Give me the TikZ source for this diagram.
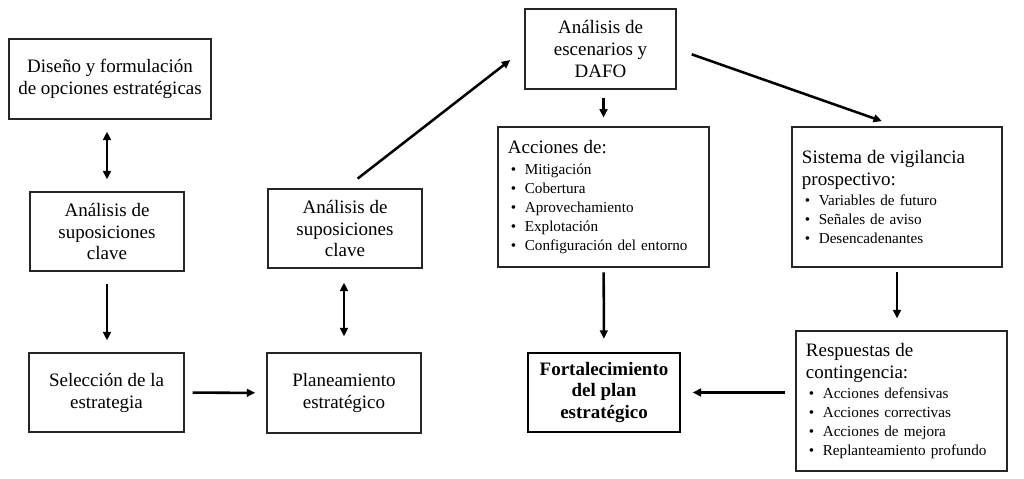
\documentclass[tikz,border=0pt]{standalone}
\usepackage{fontspec}
\setmainfont{Liberation Serif}
\usetikzlibrary{arrows.meta}
\newcommand{\itm}{\hspace*{0.07cm}\makebox[0.35cm][l]{\textbullet}}
\newcommand{\ttl}[1]{{\fontsize{13.5}{15.6}\selectfont #1}}
\begin{document}
\begin{tikzpicture}[x=0.025cm,y=-0.025cm,
    box/.style={draw=black!85,line width=0.8pt,align=center,inner sep=0,font=\fontsize{13.5}{15.6}\selectfont},
    lst/.style={draw=black!85,line width=0.8pt,align=left,inner xsep=0.25cm,inner ysep=0,
      minimum width=5.275cm,text width=4.775cm,minimum height=3.5cm,font=\fontsize{10.8}{13.5}\selectfont},
    conn/.style={line width=1.8pt,-{Triangle[length=6pt,width=5.5pt]},shorten >=0.3cm,shorten <=0.3cm},
    both/.style={conn,{Triangle[length=6pt,width=5.5pt]}-{Triangle[length=6pt,width=5.5pt]}}]
  \useasboundingbox (0,0) rectangle (1024,479);
  \node[box,minimum width=5.05cm,minimum height=2cm](diseno)at(110,79){Diseño y formulación\\de opciones estratégicas};
  \node[box,minimum width=3.85cm,minimum height=1.975cm](supA)at(107,231.5){Análisis de\\suposiciones\\clave};
  \node[box,minimum width=3.875cm,minimum height=1.975cm](seleccion)at(106.5,392.5){Selección de la\\estrategia};
  \node[box,minimum width=3.85cm,minimum height=1.975cm](supB)at(345,228.5){Análisis de\\suposiciones\\clave};
  \node[box,minimum width=3.85cm,minimum height=2cm](planea)at(344,393){Planeamiento\\estratégico};
  \node[box,minimum width=3.775cm,minimum height=2cm](dafo)at(600.5,49){Análisis de\\escenarios y\\DAFO};
  \node[lst](acciones)at(603.5,197){\ttl{Acciones de:}\\[2pt]
    \itm Mitigación\\\itm Cobertura\\\itm Aprovechamiento\\\itm Explotación\\\itm Configuración del entorno};
  \node[lst,minimum width=5.25cm,text width=4.75cm](vigilancia)at(897,197){\ttl{Sistema de vigilancia}\\[2.5pt]
    \ttl{prospectivo:}\\[1pt]
    \itm Variables de futuro\\\itm Señales de aviso\\\itm Desencadenantes};
  \node[box,line width=2pt,draw=black,minimum width=3.8cm,minimum height=1.975cm,
    font=\bfseries\fontsize{13.5}{15.6}\selectfont](fortal)at(604,392.5){Fortalecimiento\\del plan\\estratégico};
  \node[lst](respuestas)at(901.5,401){\ttl{Respuestas de}\\[2.5pt]
    \ttl{contingencia:}\\[1pt]
    \itm Acciones defensivas\\\itm Acciones correctivas\\\itm Acciones de mejora\\\itm Replanteamiento profundo};
  \draw[both](supA.north)--(supA.north|-diseno.south);
  \draw[conn](supA.south)--(supA.south|-seleccion.north);
  \draw[conn,shorten <=0.2cm,shorten >=0.28cm](seleccion)--(planea);
  \draw[both,shorten <=0.4cm,shorten >=0.35cm](planea.north)--(planea.north|-supB.south);
  \draw[conn,shorten <=0.4cm,shorten >=0.45cm](supB.north)--(dafo.west);
  \draw[conn,shorten <=0.2cm,shorten >=0.22cm](acciones.north|-dafo.south)--(acciones.north);
  \draw[conn,shorten <=0.4cm,shorten >=0.4cm](dafo.east)--(vigilancia.north);
  \draw[conn,shorten <=0.12cm,shorten >=0.32cm](acciones)--(fortal);
  \draw[conn,shorten <=0.12cm,shorten >=0.3cm](vigilancia.south)--(vigilancia.south|-respuestas.north);
  \draw[conn,shorten <=0.25cm,shorten >=0.28cm](respuestas.west|-fortal)--(fortal.east);
\end{tikzpicture}
\end{document}
